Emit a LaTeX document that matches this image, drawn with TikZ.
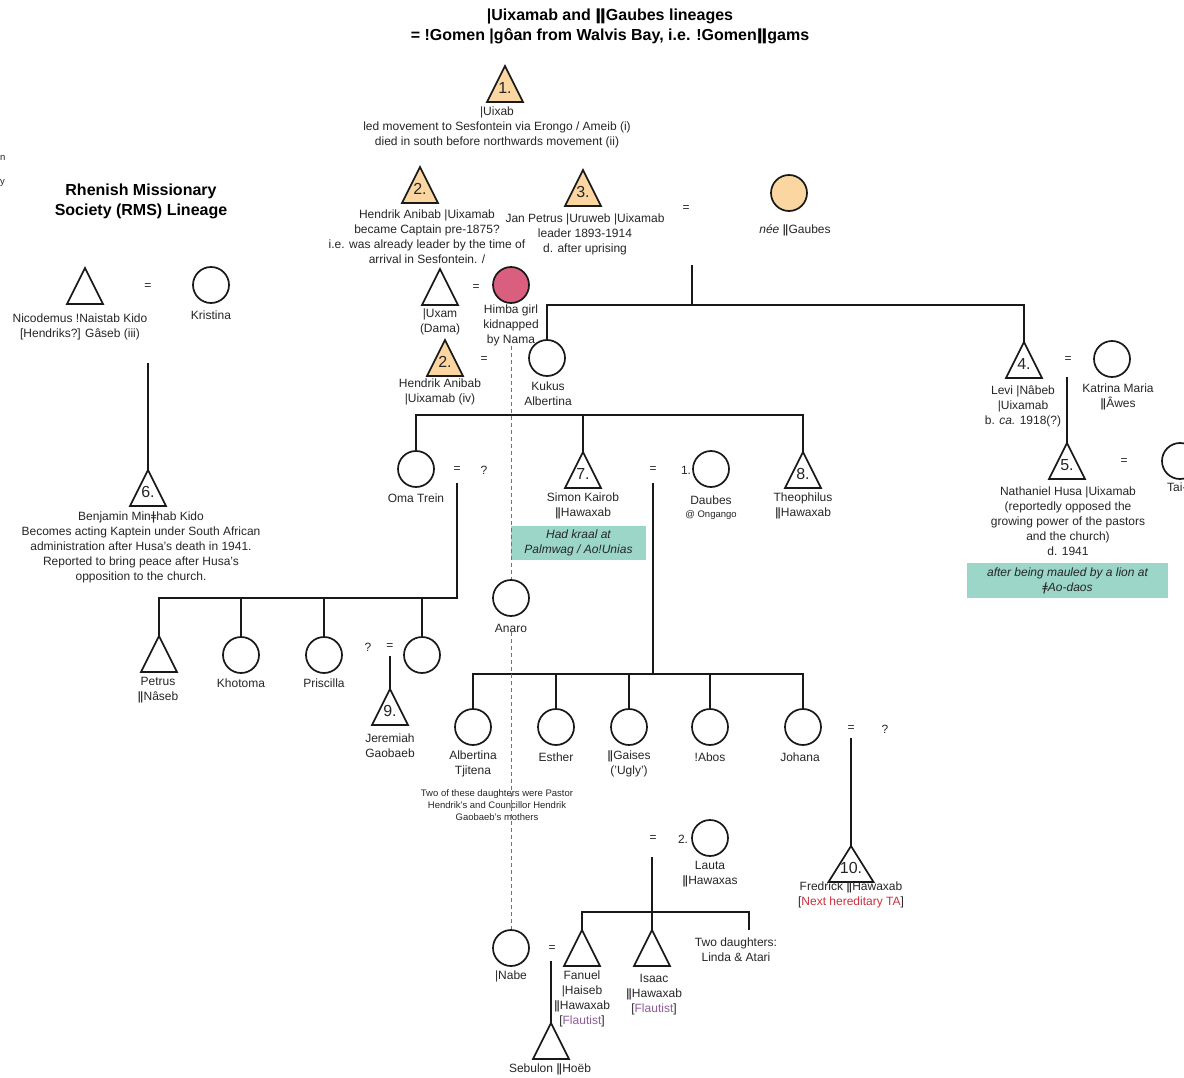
\documentclass[tikz,border=0pt]{standalone}
\usepackage{fontspec}
\setmainfont{Liberation Sans}
\newfontfamily\clickfont{DejaVu Sans}
\newcommand\dbar{{\clickfont ǁ}}
\newcommand\clk{{\clickfont ǂ}}
\definecolor{peach}{HTML}{FBD6A0}
\definecolor{pinkc}{HTML}{DA5E7E}
\definecolor{tealc}{HTML}{9BD6C9}
\definecolor{tared}{HTML}{C8323F}
\definecolor{purp}{HTML}{8E5B9A}
\newcommand\famtri[4]{%
  \node[tribox] (#1) at (#2) {};
  \draw[shapeline, fill=#3] (#1.south west) -- (#1.north) -- (#1.south east) -- cycle;
  \node[numtext] at ([yshift=-4pt]#1.center) {#4};
}
\begin{document}
\begin{tikzpicture}[x=1pt,y=-1pt,
  line/.style={line width=1.7pt, black!90},
  shapeline/.style={line width=1.7pt, black!90},
  circ/.style={circle, draw=black!90, line width=1.7pt, minimum size=36pt, inner sep=0pt},
  tribox/.style={minimum width=36pt, minimum height=36pt, inner sep=0pt, outer sep=0pt},
  lbl/.style={align=center, inner sep=0pt, font=\fontsize{12}{15}\selectfont, text=black!85},
  eq/.style={inner sep=0pt, font=\fontsize{12}{15}\selectfont, text=black!85},
  small/.style={align=center, inner sep=0pt, font=\fontsize{9.5}{12}\selectfont, text=black!85},
  numtext/.style={inner sep=0pt, font=\fontsize{16}{16}\selectfont, text=black!85},
  titl/.style={align=center, inner sep=0pt, font=\bfseries\fontsize{16}{20}\selectfont},
  tealbox/.style={fill=tealc, inner sep=0pt, align=center, font=\itshape\fontsize{12}{15}\selectfont, text=black!85},
  dashline/.style={black!55, line width=0.8pt, dash pattern=on 4pt off 3pt}]
\useasboundingbox (0,0) rectangle (1184,1078);
\clip (0,0) rectangle (1184,1078);
\fill[white] (0,0) rectangle (1184,1078);

% titles
\node[titl] (title) at (610,26) {|Uixamab and \dbar Gaubes lineages\\= !Gomen |gôan from Walvis Bay, i.e. !Gomen\dbar gams};
\node[titl] (rms) at (141,201) {Rhenish Missionary\\Society (RMS) Lineage};
\node[small, anchor=west] (frag1) at (0,158) {n};
\node[small, anchor=west] (frag2) at (0,183) {y};

% generation 1
\famtri{t1}{505,84}{peach}{1.}
\node[lbl] (l1) at (497,127) {|Uixab\\led movement to Sesfontein via Erongo / Ameib (i)\\died in south before northwards movement (ii)};

% generation 2
\famtri{t2a}{420,185}{peach}{2.}
\node[lbl] (l2a) at (427,237) {Hendrik Anibab |Uixamab\\became Captain pre-1875?\\i.e. was already leader by the time of\\arrival in Sesfontein. /};
\famtri{t3}{583,188}{peach}{3.}
\node[lbl] (l3) at (585,234) {Jan Petrus |Uruweb |Uixamab\\leader 1893-1914\\d. after uprising};
\node[eq] (e3) at (686,209) {=};
\node[circ, fill=peach] (gaubes) at (789,193) {};
\node[lbl] (lg) at (795,230) {\textit{née} \dbar Gaubes};
\coordinate (m3) at (692,265);
\coordinate (b1) at (692,305);

\famtri{uxam}{440,287}{white}{}
\node[lbl] (luxam) at (440,322) {|Uxam\\(Dama)};
\node[eq] (eux) at (476,288) {=};
\node[circ, fill=pinkc] (himba) at (511,285) {};
\node[lbl] (lhimba) at (511,325) {Himba girl\\kidnapped\\by Nama};

\famtri{t2b}{445,358}{peach}{2.}
\node[lbl] (l2b) at (440,392) {Hendrik Anibab\\|Uixamab (iv)};
\node[eq] (e2b) at (484,360) {=};
\node[circ] (kukus) at (547,358) {};
\node[lbl] (lkukus) at (548,394) {Kukus\\Albertina};

\famtri{t4}{1024,360}{white}{4.}
\node[lbl] (l4) at (1023,406) {Levi |Nâbeb\\|Uixamab\\b. \textit{ca.} 1918(?)};
\node[eq] (e4) at (1068,360) {=};
\node[circ] (katrina) at (1112,359) {};
\node[lbl] (lkat) at (1118,397) {Katrina Maria\\\dbar Âwes};
\coordinate (m5) at (1067,377);
\famtri{t5}{1067,461}{white}{5.}
\node[lbl] (l5) at (1068,521) {Nathaniel Husa |Uixamab\\(reportedly opposed the\\growing power of the pastors\\and the church)\\d. 1941};
\node[eq] (e5) at (1124,462) {=};
\node[circ] (tai) at (1180,461) {};
\node[lbl, anchor=west] (ltai) at (1167,487) {Tai-};
\node[tealbox, minimum width=201pt, minimum height=35pt] (k2) at (1067.5,580.5) {after being mauled by a lion at\\\clk Ao-daos};

% RMS lineage
\famtri{nico}{85,286}{white}{}
\node[lbl] (lnico) at (80,327) {Nicodemus !Naistab Kido\\{}[Hendriks?] Gâseb (iii)};
\node[eq] (enico) at (148,287) {=};
\node[circ] (kristina) at (211,285) {};
\node[lbl] (lkris) at (211,315) {Kristina};
\coordinate (m6) at (148,363);
\famtri{t6}{148,488}{white}{6.}
\node[lbl] (l6) at (141,547) {Benjamin Min\clk hab Kido\\Becomes acting Kaptein under South African\\administration after Husa's death in 1941.\\Reported to bring peace after Husa's\\opposition to the church.};

% generation 3
\coordinate (b2) at (583,415);
\node[circ] (oma) at (416,469) {};
\node[lbl] (loma) at (416,498) {Oma Trein};
\node[eq] (eoma) at (457,470) {=};
\node[eq] (qoma) at (484,470) {?};
\coordinate (moma) at (457,483);
\coordinate (b3) at (457,598);
\famtri{t7}{583,470}{white}{7.}
\node[lbl] (l7) at (583,506) {Simon Kairob\\\dbar Hawaxab};
\node[tealbox, minimum width=135pt, minimum height=34pt] (k1) at (578.5,543) {Had kraal at\\Palmwag / Ao!Unias};
\node[eq] (e7) at (653,470) {=};
\coordinate (m7) at (653,483);
\node[eq] (n1) at (686,470) {1.};
\node[circ] (daubes) at (711,469) {};
\node[lbl] (ldaubes) at (711,500) {Daubes};
\node[small] (long) at (711,515) {@ Ongango};
\famtri{t8}{803,470}{white}{8.}
\node[lbl] (l8) at (803,506) {Theophilus\\\dbar Hawaxab};

\node[circ] (anaro) at (511,598) {};
\node[lbl] (lanaro) at (511,628) {Anaro};

% Oma Trein's children
\famtri{petrus}{159,654}{white}{}
\node[lbl] (lpetrus) at (158,690) {Petrus\\\dbar Nâseb};
\node[circ] (khotoma) at (241,655) {};
\node[lbl] (lkhot) at (241,683) {Khotoma};
\node[circ] (priscilla) at (324,655) {};
\node[lbl] (lpris) at (324,683) {Priscilla};
\node[eq] (q9) at (368,647) {?};
\node[eq] (e9) at (390,647) {=};
\node[circ] (c4) at (422,655) {};
\coordinate (m9) at (390,656);
\famtri{t9}{390,707}{white}{9.}
\node[lbl] (l9) at (390,746) {Jeremiah\\Gaobaeb};

% Simon's children
\coordinate (b4) at (653,674);
\node[circ] (albertina) at (473,727) {};
\node[lbl] (lalb) at (473,764) {Albertina\\Tjitena};
\node[circ] (esther) at (556,727) {};
\node[lbl] (lest) at (556,757) {Esther};
\node[circ] (gaises) at (629,727) {};
\node[lbl] (lgai) at (629,764) {\dbar Gaises\\('Ugly')};
\node[circ] (abos) at (710,727) {};
\node[lbl] (labos) at (710,757) {!Abos};
\node[circ] (johana) at (803,727) {};
\node[lbl] (ljoh) at (800,757) {Johana};
\node[eq] (e10) at (851,729) {=};
\node[eq] (q10) at (885,729) {?};
\coordinate (m10) at (851,738);
\node[tribox, minimum width=45pt] (t10) at (851,864) {};
\draw[shapeline, fill=white] (t10.south west) -- (t10.north) -- (t10.south east) -- cycle;
\node[numtext] (n10) at ([yshift=-4pt]t10.center) {10.};
\node[lbl] (l10) at (851,895) {Fredrick \dbar Hawaxab\\{}[\textcolor{tared}{Next hereditary TA}]};
\node[small] (note) at (497,805) {Two of these daughters were Pastor\\Hendrik's and Councillor Hendrik\\Gaobaeb's mothers};

% second wife Lauta
\node[eq] (e11) at (653,839) {=};
\node[eq] (n2) at (683,839) {2.};
\node[circ] (lauta) at (710,838) {};
\node[lbl] (llauta) at (710,874) {Lauta\\\dbar Hawaxas};
\coordinate (m11) at (652,857);
\coordinate (b5) at (652,912);
\coordinate (e1) at (749,930);
\famtri{fanuel}{582,948}{white}{}
\node[lbl] (lfan) at (582,999) {Fanuel\\|Haiseb\\\dbar Hawaxab\\{}[\textcolor{purp}{Flautist}]};
\famtri{isaac}{652,948}{white}{}
\node[lbl] (lisaac) at (654,995) {Isaac\\\dbar Hawaxab\\{}[\textcolor{purp}{Flautist}]};
\node[lbl] (ltwo) at (736,950) {Two daughters:\\Linda \& Atari};
\node[circ] (nabe) at (511,948) {};
\node[lbl] (lnabe) at (511,976) {|Nabe};
\node[eq] (e12) at (552,949) {=};
\coordinate (m12) at (551,961);
\famtri{sebulon}{551,1041}{white}{}
\node[lbl] (lseb) at (550,1069) {Sebulon \dbar Hoëb};

% connectors
\draw[line] (m3) -- (b1);
\draw[line] (kukus.north) |- (b1) -| (t4.north);
\draw[line] (oma.north) |- (b2) -| (t8.north);
\draw[line] (b2) -- (t7.north);
\draw[line] (moma) -- (b3) -| (petrus.north);
\draw[line] (khotoma.north) -- (khotoma.north |- b3);
\draw[line] (priscilla.north) -- (priscilla.north |- b3);
\draw[line] (c4.north) -- (c4.north |- b3);
\draw[line] (m9) -- (t9.north);
\draw[line] (m7) -- (b4);
\draw[line] (albertina.north) |- (b4) -| (johana.north);
\draw[line] (esther.north) -- (esther.north |- b4);
\draw[line] (gaises.north) -- (gaises.north |- b4);
\draw[line] (abos.north) -- (abos.north |- b4);
\draw[line] (m10) -- (t10.north);
\draw[line] (m11) -- (isaac.north);
\draw[line] (fanuel.north) |- (b5) -| (e1);
\draw[line] (m6) -- (t6.north);
\draw[line] (m5) -- (t5.north);
\draw[line] (m12) -- (sebulon.north);
\draw[dashline] (lhimba.south) -- (anaro.north);
\draw[dashline] (lanaro.south) -- (nabe.north);
\end{tikzpicture}
\end{document}
